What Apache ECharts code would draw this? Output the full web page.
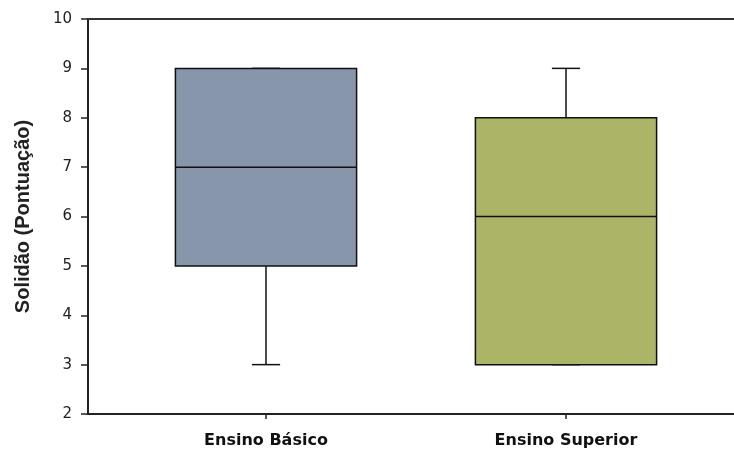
<!DOCTYPE html>
<html>
<head>
<meta charset="utf-8">
<script src="https://cdn.jsdelivr.net/npm/echarts@6/dist/echarts.min.js"></script>
<style>html,body{margin:0;padding:0;background:#fff}#c{width:734px;height:451px}</style>
</head>
<body>
<div id="c"></div>
<script>
const categories = ['Ensino Básico', 'Ensino Superior'];
const mins = [3, 3];
const q1s = [5, 3];
const medians = [7, 6];
const q3s = [9, 8];
const maxs = [9, 9];
const boxColors = ['#8796AB', '#ACB467'];
const yTicks = [2, 3, 4, 5, 6, 7, 8, 9, 10];

const data = categories.map((c, i) => [i, mins[i], q1s[i], medians[i], q3s[i], maxs[i]]);
const font = '"Liberation Sans", Arial, sans-serif';
const wideFont = '"DejaVu Sans", "Liberation Sans", sans-serif';

const chart = echarts.init(document.getElementById('c'), null, {renderer: 'canvas'});
chart.setOption({
  animation: false,
  backgroundColor: '#fff',
  grid: [
    {left: 88, right: 0, top: 19, bottom: 37},
    {left: 116, width: 600, top: 19, bottom: 37}
  ],
  xAxis: [
    {gridIndex: 0, type: 'value', min: 0, max: 1, position: 'bottom',
     axisLine: {show: true, lineStyle: {color: '#222', width: 2}},
     axisTick: {show: false}, axisLabel: {show: false}, splitLine: {show: false}},
    {gridIndex: 0, type: 'value', min: 0, max: 1, position: 'top',
     axisLine: {show: true, lineStyle: {color: '#333', width: 2}},
     axisTick: {show: false}, axisLabel: {show: false}, splitLine: {show: false}},
    {gridIndex: 1, type: 'category', data: categories, position: 'bottom',
     axisLine: {show: false},
     axisTick: {show: true, alignWithLabel: true, length: 5, lineStyle: {color: '#222', width: 1.5}},
     axisLabel: {color: '#111', fontSize: 16, fontWeight: 'bold', fontFamily: wideFont, margin: 19}}
  ],
  yAxis: [
    {gridIndex: 0, type: 'value', min: 2, max: 10, interval: 1,
     axisLine: {show: true, lineStyle: {color: '#222', width: 2}},
     axisTick: {show: true, inside: false, length: 7, lineStyle: {color: '#222', width: 1.5}},
     axisLabel: {color: '#222', fontSize: 15, fontFamily: wideFont, margin: 16,
       formatter: v => yTicks.includes(v) ? String(v) : ''},
     splitLine: {show: false},
     name: 'Solidão (Pontuação)', nameLocation: 'middle', nameGap: 55, nameRotate: 90,
     nameTextStyle: {color: '#222', fontSize: 20, fontWeight: 'bold', fontFamily: font}},
    {gridIndex: 1, type: 'value', min: 2, max: 10, show: false}
  ],
  series: [{
    type: 'custom',
    xAxisIndex: 2, yAxisIndex: 1,
    data: data,
    encode: {x: 0, y: [1, 2, 3, 4, 5]},
    renderItem: function (params, api) {
      const i = api.value(0);
      const band = api.size([1, 0])[0];
      const half = band * 0.302;
      const cap = band * 0.047;
      const pMin = api.coord([i, api.value(1)]);
      const pQ1 = api.coord([i, api.value(2)]);
      const pMd = api.coord([i, api.value(3)]);
      const pQ3 = api.coord([i, api.value(4)]);
      const pMax = api.coord([i, api.value(5)]);
      const cx = pMd[0];
      const ls = {stroke: '#111', lineWidth: 1.5};
      const children = [
        {type: 'line', shape: {x1: cx, y1: pMin[1], x2: cx, y2: pQ1[1]}, style: ls},
        {type: 'line', shape: {x1: cx, y1: pQ3[1], x2: cx, y2: pMax[1]}, style: ls},
        {type: 'line', shape: {x1: cx - cap, y1: pMin[1], x2: cx + cap, y2: pMin[1]}, style: ls},
        {type: 'line', shape: {x1: cx - cap, y1: pMax[1], x2: cx + cap, y2: pMax[1]}, style: ls},
        {type: 'rect', shape: {x: cx - half, y: pQ3[1], width: half * 2, height: pQ1[1] - pQ3[1]},
         style: {fill: boxColors[i], stroke: '#111', lineWidth: 1.5}},
        {type: 'line', shape: {x1: cx - half, y1: pMd[1], x2: cx + half, y2: pMd[1]}, style: ls}
      ];
      return {type: 'group', children: children};
    }
  }]
});
</script>
</body>
</html>
